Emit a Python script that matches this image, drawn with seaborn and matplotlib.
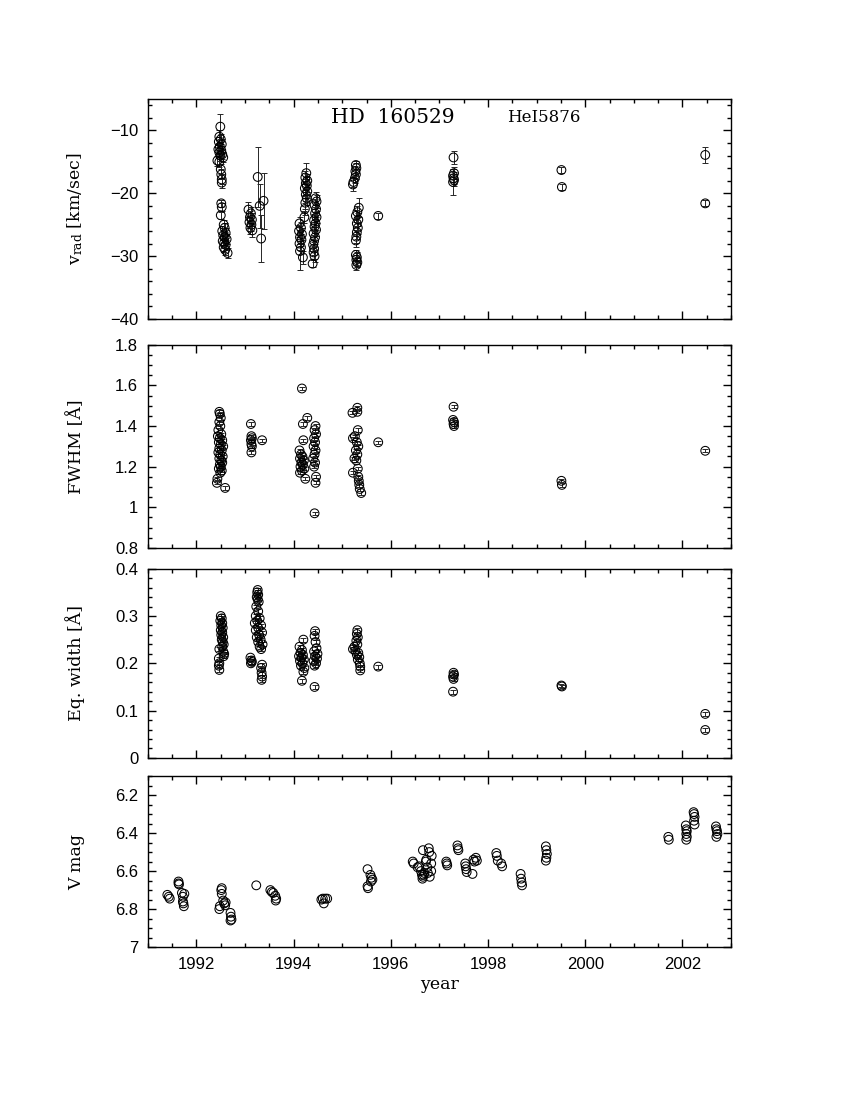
import matplotlib
matplotlib.use("Agg")
import matplotlib.pyplot as plt
from matplotlib.ticker import MultipleLocator, FuncFormatter
import seaborn as sns

# radial velocity (km/s) from HeI 5876
vrad_year = [
    1992.49, 1992.47, 1992.50, 1992.46, 1992.52, 1992.48, 1992.45, 1992.51, 1992.47, 1992.53,
    1992.49, 1992.55, 1992.43, 1992.47, 1992.50, 1992.51, 1992.52, 1992.52,
    1992.51, 1992.52, 1992.50, 1992.56, 1992.58, 1992.53, 1992.60, 1992.55, 1992.58, 1992.62,
    1992.54, 1992.57, 1992.60, 1992.56, 1992.59, 1992.64,
    1993.07, 1993.12, 1993.10, 1993.14, 1993.09, 1993.13, 1993.11, 1993.15,
    1993.26, 1993.30, 1993.33, 1993.38,
    1994.12, 1994.15, 1994.11, 1994.17, 1994.13, 1994.16, 1994.12, 1994.15, 1994.13, 1994.19,
    1994.26, 1994.24, 1994.28, 1994.25, 1994.27, 1994.23, 1994.28, 1994.25, 1994.27, 1994.24,
    1994.23, 1994.22,
    1994.45, 1994.47, 1994.43, 1994.46, 1994.44, 1994.47, 1994.42, 1994.45, 1994.43, 1994.46,
    1994.41, 1994.44, 1994.42, 1994.40, 1994.42, 1994.41, 1994.43, 1994.39,
    1995.22, 1995.23, 1995.26, 1995.28, 1995.27, 1995.29, 1995.28,
    1995.34, 1995.31, 1995.28, 1995.33, 1995.30, 1995.32, 1995.30, 1995.29, 1995.28,
    1995.28, 1995.30, 1995.29, 1995.31, 1995.29,
    1995.74, 1997.29, 1997.30, 1997.28, 1997.29, 1997.30, 1997.28,
    1999.51, 1999.52, 2002.47, 2002.47,
]
vrad_val = [
    -9.4, -11.0, -11.4, -11.8, -12.2, -12.6, -13.0, -13.2, -13.5, -13.8,
    -14.0, -14.3, -14.8, -15.0, -16.2, -17.0, -17.8, -18.3,
    -21.6, -22.2, -23.5, -25.0, -25.5, -26.0, -26.3, -26.7, -27.0, -27.3,
    -27.6, -27.9, -28.2, -28.6, -29.0, -29.5,
    -22.6, -23.2, -23.8, -24.2, -24.6, -25.0, -25.5, -25.9,
    -17.4, -22.0, -27.2, -21.2,
    -24.8, -25.5, -26.0, -26.5, -27.0, -27.4, -28.0, -28.6, -29.2, -30.2,
    -16.8, -17.5, -18.0, -18.4, -18.8, -19.2, -19.7, -20.2, -20.8, -21.5,
    -22.5, -23.8,
    -20.8, -21.3, -21.9, -22.5, -23.2, -23.8, -24.3, -24.8, -25.3, -25.8,
    -26.4, -27.0, -27.6, -28.2, -28.8, -29.4, -30.0, -31.2,
    -18.6, -18.2, -17.6, -17.0, -16.5, -16.0, -15.5,
    -22.3, -23.0, -23.6, -24.2, -24.8, -25.5, -26.2, -26.9, -27.5,
    -29.8, -30.2, -30.6, -31.0, -31.4,
    -23.6, -14.3, -16.8, -17.2, -17.6, -17.9, -18.2,
    -16.3, -19.0, -13.9, -21.6,
]
vrad_err = [
    2.0, 1.0, 0.8, 0.8, 0.8, 0.8, 0.8, 0.8, 0.8, 0.8,
    0.8, 0.8, 0.8, 0.8, 0.8, 0.8, 0.8, 0.8,
    0.6, 0.6, 0.6, 0.8, 0.8, 0.8, 0.8, 0.8, 0.8, 0.8,
    0.8, 0.8, 0.8, 0.8, 0.8, 0.8,
    1.2, 1.0, 1.0, 1.0, 1.0, 1.0, 1.0, 1.0,
    4.8, 3.5, 3.8, 4.5,
    1.0, 1.0, 1.0, 1.0, 1.0, 1.0, 1.0, 1.0, 3.0, 1.0,
    1.6, 1.0, 1.0, 1.0, 1.0, 1.0, 1.0, 1.0, 1.0, 1.0,
    1.0, 1.0,
    1.0, 1.0, 1.0, 1.0, 1.0, 1.0, 1.0, 1.0, 1.0, 1.0,
    1.0, 1.0, 1.0, 1.0, 1.0, 1.0, 1.0, 0.6,
    1.0, 0.8, 0.8, 0.8, 0.8, 0.8, 0.6,
    1.5, 1.0, 1.0, 1.0, 1.0, 1.0, 1.0, 1.0, 1.0,
    0.8, 0.8, 0.8, 0.8, 0.8,
    0.5, 1.0, 1.0, 1.0, 1.0, 1.0, 2.1,
    0.5, 0.5, 1.3, 0.5,
]

# line FWHM (Angstrom)
fwhm_year = [
    1992.47, 1992.48, 1992.50, 1992.47, 1992.49, 1992.45, 1992.51, 1992.44, 1992.48, 1992.53,
    1992.46, 1992.50, 1992.55, 1992.47, 1992.52, 1992.45, 1992.49, 1992.54, 1992.47, 1992.51,
    1992.53, 1992.48, 1992.50, 1992.46, 1992.52, 1992.49, 1992.43, 1992.42, 1992.59,
    1993.12, 1993.13, 1993.14, 1993.12, 1993.13, 1993.14, 1993.13, 1993.35,
    1994.17, 1994.19, 1994.28, 1994.20, 1994.12, 1994.15, 1994.18, 1994.13, 1994.21, 1994.16,
    1994.19, 1994.14, 1994.22, 1994.17, 1994.13, 1994.24,
    1994.45, 1994.43, 1994.46, 1994.42, 1994.44, 1994.41, 1994.45, 1994.43, 1994.40, 1994.44,
    1994.42, 1994.46, 1994.45, 1994.43,
    1995.21, 1995.31, 1995.31, 1995.32, 1995.26, 1995.22, 1995.30, 1995.33, 1995.28, 1995.31,
    1995.25, 1995.29, 1995.32, 1995.22, 1995.33, 1995.34, 1995.35, 1995.36, 1995.39,
    1995.74, 1997.29, 1997.28, 1997.30, 1997.29, 1997.30,
    1999.51, 1999.52, 2002.47,
]
fwhm_val = [
    1.47, 1.46, 1.44, 1.42, 1.40, 1.38, 1.36, 1.35, 1.34, 1.33,
    1.32, 1.31, 1.30, 1.29, 1.28, 1.27, 1.26, 1.25, 1.24, 1.23,
    1.22, 1.21, 1.20, 1.19, 1.18, 1.17, 1.14, 1.12, 1.095,
    1.41, 1.35, 1.34, 1.33, 1.31, 1.30, 1.27, 1.33,
    1.585, 1.41, 1.44, 1.33, 1.28, 1.26, 1.25, 1.24, 1.23, 1.22,
    1.21, 1.20, 1.19, 1.18, 1.17, 1.14,
    1.40, 1.38, 1.36, 1.34, 1.32, 1.30, 1.28, 1.26, 1.24, 1.22,
    1.20, 1.15, 1.12, 0.97,
    1.465, 1.49, 1.47, 1.38, 1.35, 1.34, 1.32, 1.30, 1.28, 1.26,
    1.24, 1.23, 1.19, 1.17, 1.15, 1.13, 1.11, 1.09, 1.07,
    1.32, 1.495, 1.43, 1.42, 1.41, 1.40,
    1.13, 1.11, 1.278,
]
fwhm_err = 0.008

# equivalent width (Angstrom)
ew_year = [
    1992.50, 1992.52, 1992.49, 1992.53, 1992.51, 1992.54, 1992.50, 1992.53, 1992.51, 1992.55,
    1992.52, 1992.54, 1992.56, 1992.53, 1992.47, 1992.55, 1992.57, 1992.56, 1992.46, 1992.47,
    1992.46, 1992.47,
    1993.11, 1993.13, 1993.14, 1993.12,
    1993.26, 1993.25, 1993.27, 1993.24, 1993.26, 1993.28, 1993.23, 1993.27, 1993.22, 1993.30,
    1993.25, 1993.20, 1993.33, 1993.27, 1993.22, 1993.35, 1993.29, 1993.24, 1993.32, 1993.27,
    1993.36, 1993.30, 1993.33,
    1993.35, 1993.33, 1993.34, 1993.35, 1993.34,
    1994.20, 1994.12, 1994.17, 1994.14, 1994.19, 1994.11, 1994.16, 1994.21, 1994.13, 1994.18,
    1994.15, 1994.22, 1994.20, 1994.17,
    1994.44, 1994.43, 1994.45, 1994.47, 1994.42, 1994.49, 1994.44, 1994.48, 1994.41, 1994.46,
    1994.43, 1994.43,
    1995.31, 1995.30, 1995.32, 1995.29, 1995.31, 1995.25, 1995.22, 1995.27, 1995.33, 1995.30,
    1995.35, 1995.32, 1995.36, 1995.37, 1995.37,
    1995.74, 1997.29, 1997.30, 1997.28, 1997.29, 1997.28,
    1999.51, 1999.52, 2002.47, 2002.47,
]
ew_val = [
    0.300, 0.295, 0.290, 0.285, 0.280, 0.275, 0.270, 0.265, 0.260, 0.255,
    0.250, 0.245, 0.240, 0.235, 0.230, 0.225, 0.220, 0.215, 0.210, 0.200,
    0.195, 0.186,
    0.212, 0.206, 0.203, 0.200,
    0.355, 0.350, 0.345, 0.340, 0.335, 0.330, 0.320, 0.310, 0.300, 0.295,
    0.290, 0.285, 0.280, 0.275, 0.270, 0.265, 0.260, 0.255, 0.250, 0.245,
    0.240, 0.235, 0.230,
    0.197, 0.190, 0.180, 0.172, 0.165,
    0.250, 0.235, 0.228, 0.222, 0.218, 0.215, 0.212, 0.208, 0.205, 0.200,
    0.195, 0.190, 0.182, 0.163,
    0.268, 0.258, 0.245, 0.232, 0.225, 0.220, 0.215, 0.210, 0.205, 0.200,
    0.195, 0.150,
    0.270, 0.262, 0.255, 0.248, 0.240, 0.235, 0.230, 0.226, 0.222, 0.218,
    0.213, 0.208, 0.200, 0.193, 0.185,
    0.193, 0.180, 0.176, 0.172, 0.167, 0.140,
    0.153, 0.151, 0.093, 0.059,
]
ew_err = 0.004

# photometry
vmag_year = [
    1991.40, 1991.43, 1991.45, 1991.63, 1991.63, 1991.64,
    1991.70, 1991.72, 1991.75, 1991.73, 1991.74, 1991.72,
    1992.47, 1992.48, 1992.52, 1992.51, 1992.52, 1992.55, 1992.57, 1992.59, 1992.60,
    1992.70, 1992.71, 1992.72, 1992.70,
    1993.23,
    1993.52, 1993.55, 1993.58, 1993.62, 1993.64, 1993.63,
    1994.57, 1994.60, 1994.62, 1994.65, 1994.69,
    1995.52, 1995.52, 1995.53, 1995.58, 1995.60, 1995.62, 1995.59,
    1996.45, 1996.47, 1996.55, 1996.58, 1996.62, 1996.64, 1996.65, 1996.66, 1996.68, 1996.69,
    1996.66, 1996.72, 1996.73, 1996.75, 1996.76, 1996.78, 1996.79, 1996.80, 1996.83, 1996.83,
    1996.84,
    1997.14, 1997.15, 1997.16, 1997.37, 1997.38, 1997.39,
    1997.53, 1997.54, 1997.55, 1997.56,
    1997.68, 1997.70, 1997.72, 1997.75, 1997.77,
    1998.17, 1998.18, 1998.20, 1998.27, 1998.29,
    1998.67, 1998.68, 1998.69, 1998.70,
    1999.19, 1999.20, 1999.21, 1999.20, 1999.19,
    2001.71, 2001.72,
    2002.07, 2002.08, 2002.09, 2002.08, 2002.09, 2002.08,
    2002.23, 2002.24, 2002.25, 2002.24, 2002.25,
    2002.69, 2002.70, 2002.71, 2002.72, 2002.70,
]
vmag_val = [
    6.725, 6.735, 6.745, 6.655, 6.665, 6.670,
    6.715, 6.735, 6.720, 6.770, 6.785, 6.760,
    6.800, 6.785, 6.690, 6.700, 6.720, 6.755, 6.770, 6.780, 6.765,
    6.820, 6.840, 6.855, 6.860,
    6.675,
    6.700, 6.710, 6.715, 6.730, 6.745, 6.755,
    6.750, 6.745, 6.770, 6.745, 6.745,
    6.590, 6.680, 6.690, 6.620, 6.635, 6.645, 6.655,
    6.550, 6.560, 6.580, 6.575, 6.600, 6.620, 6.640, 6.630, 6.620, 6.610,
    6.490, 6.550, 6.540, 6.580, 6.610, 6.480, 6.500, 6.630, 6.600, 6.560,
    6.520,
    6.550, 6.560, 6.570, 6.465, 6.480, 6.490,
    6.560, 6.575, 6.590, 6.605,
    6.615, 6.540, 6.550, 6.530, 6.545,
    6.505, 6.520, 6.545, 6.560, 6.575,
    6.615, 6.640, 6.660, 6.675,
    6.470, 6.490, 6.510, 6.530, 6.545,
    6.420, 6.435,
    6.360, 6.380, 6.390, 6.405, 6.420, 6.435,
    6.290, 6.300, 6.315, 6.335, 6.355,
    6.365, 6.380, 6.390, 6.405, 6.420,
]

sns.set_theme(style="ticks")
plt.rcParams["font.family"] = ["Liberation Sans", "DejaVu Sans"]
plt.rcParams["mathtext.fontset"] = "dejavuserif"
plt.rcParams["text.color"] = "black"
plt.rcParams["axes.labelcolor"] = "black"
plt.rcParams["xtick.color"] = "black"
plt.rcParams["ytick.color"] = "black"
plt.rcParams["axes.edgecolor"] = "black"
serif = ["DejaVu Serif"]

fig = plt.figure(figsize=(8.5, 11), dpi=100)
boxes = [
    [0.174, 0.710, 0.686, 0.200],
    [0.174, 0.502, 0.686, 0.1845],
    [0.174, 0.311, 0.686, 0.172],
    [0.174, 0.139, 0.686, 0.1555],
]
axes = [fig.add_axes(b) for b in boxes]


def draw_points(ax, xs, ys, errs=None):
    if errs is not None:
        ax.errorbar(xs, ys, yerr=errs, fmt="none", ecolor="0.15",
                    elinewidth=0.7, capsize=2, capthick=0.7, zorder=2)
    sns.scatterplot(x=xs, y=ys, ax=ax, marker="o", s=40, facecolor="none",
                    edgecolor="black", linewidth=0.75, zorder=3)


draw_points(axes[0], vrad_year, vrad_val, vrad_err)
draw_points(axes[1], fwhm_year, fwhm_val, fwhm_err)
draw_points(axes[2], ew_year, ew_val, ew_err)
draw_points(axes[3], vmag_year, vmag_val)

fmt = FuncFormatter(lambda v, p: f"{v:g}".replace("-", "\u2212"))

ylims = [(-40, -5), (0.8, 1.8), (0, 0.4), (7, 6.1)]
majors = [10, 0.2, 0.1, 0.2]
minors = [2, 0.05, 0.02, 0.05]
ylabels = [r"v$_{\rm rad}$ [km/sec]", "FWHM [Å]", "Eq. width [Å]", "V mag"]

for i, ax in enumerate(axes):
    ax.set_xlim(1991, 2003)
    ax.set_ylim(*ylims[i])
    ax.xaxis.set_major_locator(MultipleLocator(2))
    ax.xaxis.set_minor_locator(MultipleLocator(0.5))
    ax.yaxis.set_major_locator(MultipleLocator(majors[i]))
    ax.yaxis.set_minor_locator(MultipleLocator(minors[i]))
    ax.yaxis.set_major_formatter(fmt)
    ax.tick_params(which="both", direction="in", top=True, right=True,
                   width=1.0, color="black", labelcolor="black",
                   labelsize=12, pad=7)
    ax.tick_params(which="major", length=6)
    ax.tick_params(which="minor", length=3)
    for sp in ax.spines.values():
        sp.set_linewidth(1.0)
        sp.set_color("black")
    ax.set_ylabel(ylabels[i], fontsize=12.5, family=serif, color="black")
    ax.yaxis.set_label_coords(-0.108, 0.5)
    if i < 3:
        ax.tick_params(labelbottom=False)
        ax.set_xlabel("")

axes[3].set_xlabel("year", fontsize=12.5, family=serif, labelpad=3,
                   color="black")

axes[0].text(0.42, 0.915, "HD  160529", transform=axes[0].transAxes,
             ha="center", va="center", fontsize=14.5, family=serif,
             color="black")
axes[0].text(0.679, 0.915, "HeI5876", transform=axes[0].transAxes,
             ha="center", va="center", fontsize=12, family=serif,
             color="black")

fig.savefig("out.png", dpi=100)
